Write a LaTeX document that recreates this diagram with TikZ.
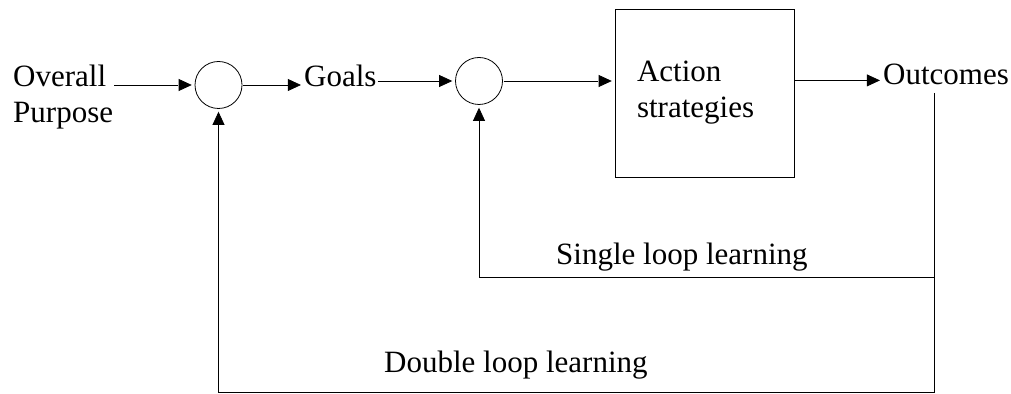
\documentclass[tikz,border=0pt]{standalone}
\usepackage{fontspec}
\setmainfont{Liberation Serif}
\usetikzlibrary{arrows.meta}
\begin{document}
\begin{tikzpicture}[x=.5pt,y=-.5pt]
    \tikzset{font={\fontsize{15.5pt}{18pt}\selectfont},line width=1.2pt}
    \tikzset{sum/.style={draw,circle,minimum size=23.5pt,inner sep=0pt},
      lbl/.style={inner sep=0pt,anchor=base west},
      arr/.style={-{Triangle[length=8pt,width=7pt]}}}
    \useasboundingbox (0,0) rectangle (1011,394);
    \node[lbl,align=left] (purpose) at (12,123) {Overall\\Purpose};
    \node[sum] (c1) at (218.5,85) {};
    \node[lbl] (goals) at (303,87) {Goals};
    \node[sum] (c2) at (479,81) {};
    \node[draw,minimum width=89.5pt,minimum height=84pt,text width=67.5pt,
      inner xsep=11pt,align=left] (act) at (704.5,93) {Action\\strategies};
    \node[lbl] (out) at (882,85) {Outcomes};
    \node[lbl] (single) at (555,265) {Single loop learning};
    \node[lbl] (double) at (383,373) {Double loop learning};
    % feedback tap under Outcomes
    \coordinate (tap) at (934,93);
    \draw[arr] (purpose.east |- c1.west) -- (c1.west);
    \draw[arr] (c1.east) -- (goals.west |- c1.east);
    \draw[arr] (goals.east |- c2.west) -- (c2.west);
    \draw[arr] (c2.east) -- (act.west |- c2.east);
    \draw[arr] (act.east |- out.mid west) -- (out.mid west);
    \draw[arr] (tap) -- (tap |- 0,392) -| (c1.south);
    \draw[arr] (tap |- 0,277) -| (c2.south);
\end{tikzpicture}
\end{document}
